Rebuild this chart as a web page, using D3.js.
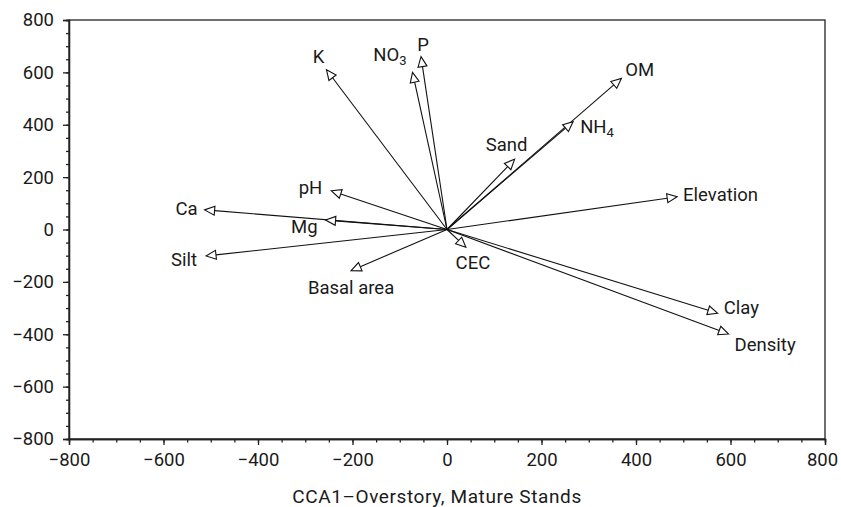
<!DOCTYPE html>
<html>
<head>
<meta charset="utf-8">
<script src="https://cdn.jsdelivr.net/npm/d3@7"></script>
<style>
  body { margin: 0; background: #fff; }
  text { font-family: Roboto, "Noto Sans", sans-serif; fill: #1a1a1a; }
  .axis path, .axis line { stroke: #222; stroke-width: 1.3; }
</style>
</head>
<body>
<svg id="chart" width="841" height="507"></svg>
<script>
// variable names, CCA1 scores, CCA2 scores, subscripts
const names = ['K', 'NO3', 'P', 'OM', 'NH4', 'Sand', 'Elevation', 'pH', 'Ca', 'Mg', 'Silt', 'Basal area', 'CEC', 'Clay', 'Density']
const cca1 = [-255, -73, -55, 369, 267, 143, 487, -245, -513, -257, -510, -203, 40, 573, 596]
const cca2 = [610, 600, 660, 577, 412, 268, 125, 148, 75, 36, -101, -157, -68, -320, -399]
const labelText = [['K'], ['NO', '3'], ['P'], ['OM'], ['NH', '4'], ['Sand'], ['Elevation'], ['pH'], ['Ca'], ['Mg'], ['Silt'], ['Basal area'], ['CEC'], ['Clay'], ['Density']]
const ticks = [-800, -600, -400, -200, 0, 200, 400, 600, 800]

// label placement relative to the arrow tip
const place = {
  'K': ['middle', -8, -13],
  'NO3': ['end', -6, -17],
  'P': ['middle', 2, -12],
  'OM': ['start', 4, -8],
  'NH4': ['start', 7, 5],
  'Sand': ['middle', -8, -14],
  'Elevation': ['start', 6, -2],
  'pH': ['end', -9, -3],
  'Ca': ['end', -7, -1],
  'Mg': ['end', -8, 7],
  'Silt': ['end', -9, 4],
  'Basal area': ['middle', 0, 17],
  'CEC': ['middle', 7, 16],
  'Clay': ['start', 6, -5],
  'Density': ['start', 6, 11]
}

const fontSize = '18.5px'
const margin = { top: 20, right: 16, bottom: 68, left: 69 }
const width = 841 - margin.left - margin.right
const height = 507 - margin.top - margin.bottom

const svg = d3.select('#chart')
const g = svg.append('g').attr('transform', `translate(${margin.left},${margin.top})`)

const x = d3.scaleLinear().domain([-800, 800]).range([0, width])
const y = d3.scaleLinear().domain([-800, 800]).range([height, 0])
const minor = d3.range(-800, 801, 50)

/* frame */
g.append('rect')
  .attr('width', width).attr('height', height)
  .attr('fill', 'none').attr('stroke', '#222').attr('stroke-width', 1.3)

/* minor ticks */
g.append('g').attr('class', 'axis').attr('transform', `translate(0,${height})`)
  .call(d3.axisBottom(x).tickValues(minor).tickSize(3.5).tickFormat(''))
g.append('g').attr('class', 'axis')
  .call(d3.axisLeft(y).tickValues(minor).tickSize(3).tickFormat(''))

/* major ticks */
const fmt = d => d < 0 ? '\u2212' + Math.abs(d) : d
const xAxis = g.append('g').attr('class', 'axis').attr('transform', `translate(0,${height})`)
  .call(d3.axisBottom(x).tickValues(ticks).tickSize(6).tickPadding(8).tickFormat(fmt))
const yAxis = g.append('g').attr('class', 'axis')
  .call(d3.axisLeft(y).tickValues(ticks).tickSize(6).tickPadding(9).tickFormat(fmt))
xAxis.selectAll('text').style('font-size', fontSize).attr('fill', '#1a1a1a')
yAxis.selectAll('text').style('font-size', fontSize).attr('fill', '#1a1a1a')
// keep the last label inside the page
xAxis.selectAll('text').filter(d => d === 800).attr('dx', -3)

svg.append('text')
  .attr('x', margin.left + width / 2 - 10)
  .attr('y', 503)
  .attr('text-anchor', 'middle')
  .style('font-size', '19px')
  .style('letter-spacing', '0.6px')
  .text('CCA1\u2013Overstory, Mature Stands')

/* arrows */
const head = 10
const half = 4.5
const arrows = g.append('g').selectAll('g')
  .data(names.map((n, i) => ({ name: n, x: cca1[i], y: cca2[i], parts: labelText[i] })))
  .enter().append('g')

arrows.each(function (d) {
  const x0 = x(0), y0 = y(0)
  const x1 = x(d.x), y1 = y(d.y)
  const len = Math.hypot(x1 - x0, y1 - y0)
  const ux = (x1 - x0) / len, uy = (y1 - y0) / len
  const bx = x1 - ux * head, by = y1 - uy * head
  const sel = d3.select(this)
  sel.append('line')
    .attr('x1', x0).attr('y1', y0).attr('x2', bx).attr('y2', by)
    .attr('stroke', '#111').attr('stroke-width', 1.1)
  sel.append('path')
    .attr('d', d3.line()([[x1, y1], [bx - uy * half, by + ux * half], [bx + uy * half, by - ux * half]]) + 'Z')
    .attr('fill', '#fff').attr('stroke', '#111').attr('stroke-width', 1.1)

  const p = place[d.name]
  const t = sel.append('text')
    .attr('x', x1 + p[1]).attr('y', y1 + p[2])
    .attr('text-anchor', p[0])
    .attr('dominant-baseline', 'central')
    .style('font-size', fontSize)
  t.append('tspan').text(d.parts[0])
  if (d.parts[1]) {
    t.append('tspan').attr('dy', 5).style('font-size', '13px').text(d.parts[1])
  }
})
</script>
</body>
</html>
